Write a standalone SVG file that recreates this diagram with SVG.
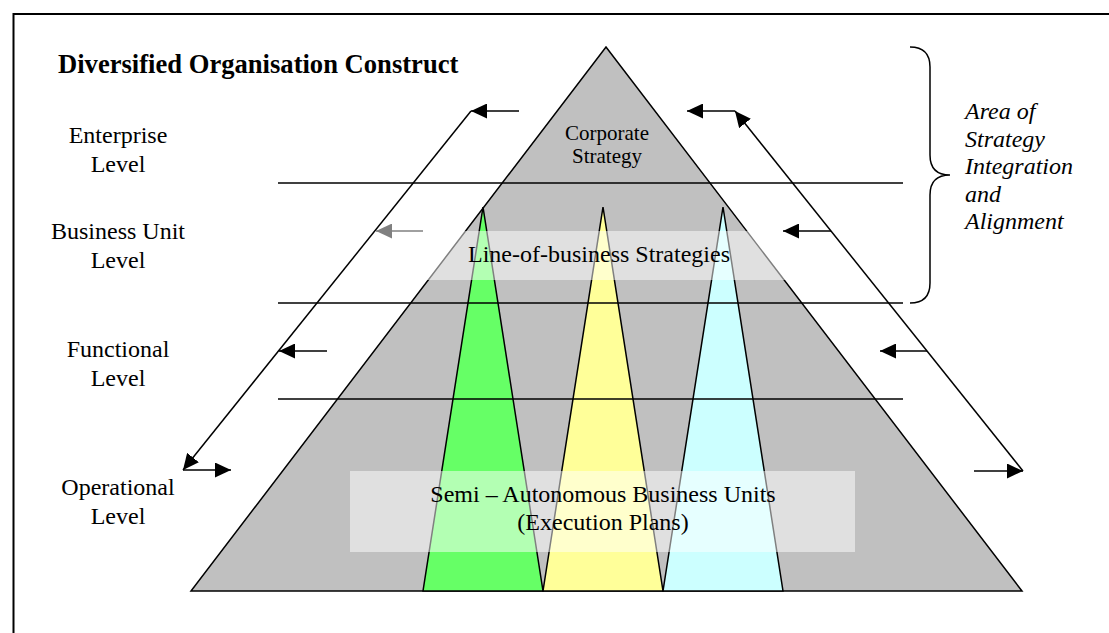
<svg xmlns="http://www.w3.org/2000/svg" width="1109" height="633" viewBox="0 0 1109 633">
  <style>
    text { font-family: "Liberation Serif", "Times New Roman", serif; fill: #000; }
    .lbl { font-size: 24px; text-anchor: middle; }
    .title { font-size: 26.6px; font-weight: bold; }
    .ital { font-size: 24px; font-style: italic; }
    .edge { stroke: #000; stroke-width: 1.5; }
    .conn { stroke: #000; stroke-width: 1.5; fill: none; }
    .veil { fill: #fff; fill-opacity: 0.5; }
  </style>
  <defs>
    <marker id="ah" markerUnits="userSpaceOnUse" markerWidth="16" markerHeight="15" viewBox="0 0 16 15" refX="16" refY="7.5" orient="auto">
      <path d="M0,0 L16,7.5 L0,15 z" fill="#000"/>
    </marker>
    <marker id="ahg" markerUnits="userSpaceOnUse" markerWidth="16" markerHeight="15" viewBox="0 0 16 15" refX="16" refY="7.5" orient="auto">
      <path d="M0,0 L16,7.5 L0,15 z" fill="#808080"/>
    </marker>
  </defs>
  <rect width="1109" height="633" fill="#fff"/>
  <rect x="13.5" y="14" width="1120" height="640" fill="none" stroke="#000" stroke-width="2"/>

  <g id="title"><text class="title" x="58" y="73">Diversified Organisation Construct</text></g>

  <g id="pyramid">
    <polygon points="606,47 1022,591 191,591" fill="#c0c0c0" class="edge" stroke-linejoin="miter"/>
  </g>
  <g id="unit-green"><polygon points="483,207 543,591 423,591" fill="#66ff66" class="edge"/></g>
  <g id="unit-yellow"><polygon points="603,207 663,591 543,591" fill="#ffff99" class="edge"/></g>
  <g id="unit-cyan"><polygon points="723,207 783,591 663,591" fill="#ccffff" class="edge"/></g>

  <g id="level-lines">
    <line x1="278" y1="183" x2="903" y2="183" class="edge"/>
    <line x1="278" y1="303" x2="903" y2="303" class="edge"/>
    <line x1="278" y1="399" x2="903" y2="399" class="edge"/>
  </g>

  <g id="lob-box"><rect x="420" y="231" width="368" height="49" class="veil"/></g>
  <g id="semi-box"><rect x="350" y="471" width="505" height="81" class="veil"/></g>

  <g id="corporate-strategy">
    <text class="lbl" style="font-size:21px" x="607" y="140">Corporate</text>
    <text class="lbl" style="font-size:21px" x="607" y="163">Strategy</text>
  </g>
  <g id="lob-label"><text class="lbl" x="599" y="262">Line-of-business Strategies</text></g>
  <g id="semi-label">
    <text class="lbl" x="603" y="502">Semi – Autonomous Business Units</text>
    <text class="lbl" x="603" y="530">(Execution Plans)</text>
  </g>

  <g id="level-labels">
    <g id="enterprise-level"><text class="lbl" x="118" y="143">Enterprise</text><text class="lbl" x="118" y="172">Level</text></g>
    <g id="business-unit-level"><text class="lbl" x="118" y="239">Business Unit</text><text class="lbl" x="118" y="268">Level</text></g>
    <g id="functional-level"><text class="lbl" x="118" y="357">Functional</text><text class="lbl" x="118" y="386">Level</text></g>
    <g id="operational-level"><text class="lbl" x="118" y="495">Operational</text><text class="lbl" x="118" y="524">Level</text></g>
  </g>

  <g id="brace-group">
    <path d="M910,47 Q930,47 930,67 L930,155 Q930,175 950,175 Q930,175 930,195 L930,283 Q930,303 910,303" class="conn"/>
    <text class="ital" x="965" y="119">Area of</text>
    <text class="ital" x="965" y="146.5">Strategy</text>
    <text class="ital" x="965" y="174">Integration</text>
    <text class="ital" x="965" y="201.5">and</text>
    <text class="ital" x="965" y="229">Alignment</text>
  </g>

  <g id="connectors">
    <line x1="519" y1="111" x2="471" y2="111" class="conn" marker-end="url(#ah)"/>
    <line x1="471" y1="111" x2="183" y2="470" class="conn" marker-end="url(#ah)"/>
    <line x1="183" y1="470" x2="231" y2="470" class="conn" marker-end="url(#ah)"/>
    <line x1="423" y1="231" x2="376" y2="231" stroke="#808080" stroke-width="1.5" marker-end="url(#ahg)"/>
    <line x1="327" y1="351" x2="279" y2="351" class="conn" marker-end="url(#ah)"/>
    <line x1="735" y1="111" x2="687" y2="111" class="conn" marker-end="url(#ah)"/>
    <line x1="1023" y1="471" x2="735" y2="111" class="conn" marker-end="url(#ah)"/>
    <line x1="974" y1="471" x2="1023" y2="471" class="conn" marker-end="url(#ah)"/>
    <line x1="831" y1="231" x2="783" y2="231" class="conn" marker-end="url(#ah)"/>
    <line x1="927" y1="351" x2="880" y2="351" class="conn" marker-end="url(#ah)"/>
  </g>
</svg>
